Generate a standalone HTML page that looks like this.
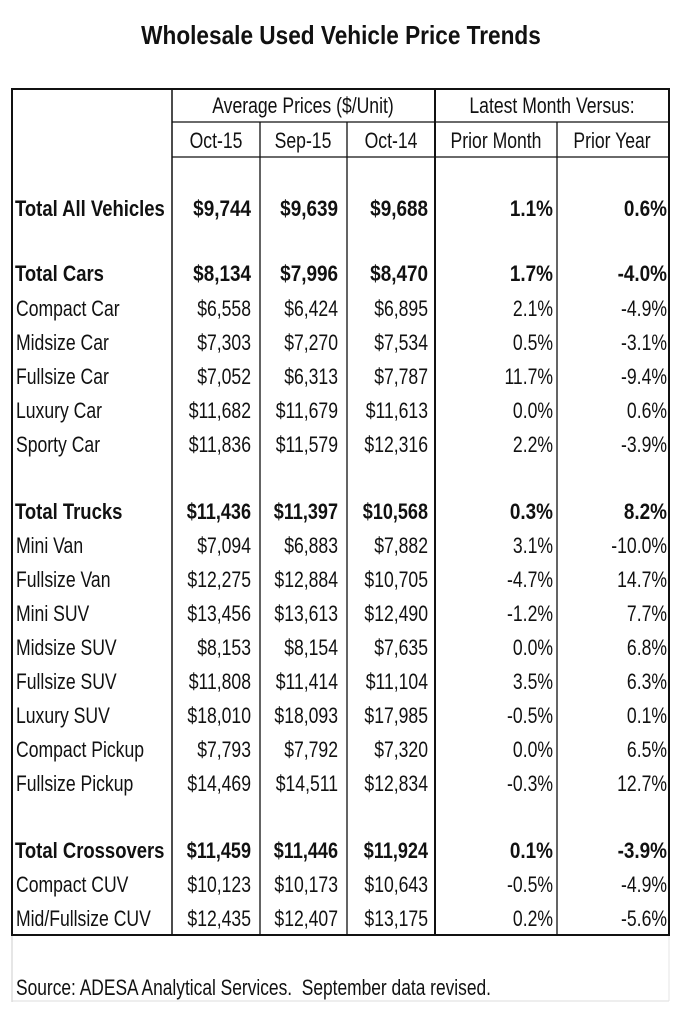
<!DOCTYPE html>
<html><head><meta charset="utf-8"><style>
html,body{margin:0;padding:0;background:#fff}
svg text{font-family:"Liberation Sans",sans-serif;fill:#111}
.b{font-weight:bold}
</style></head><body>
<svg width="680" height="1024" viewBox="0 0 680 1024" xmlns="http://www.w3.org/2000/svg">
<text transform="translate(341,44) scale(0.87,1)" text-anchor="middle" class="b" font-size="26">Wholesale Used Vehicle Price Trends</text>
<line x1="12" y1="935" x2="12" y2="1002" stroke="#ccc" stroke-width="1"/>
<line x1="12" y1="1001" x2="669" y2="1001" stroke="#ddd" stroke-width="1"/>
<line x1="669" y1="935" x2="669" y2="1001" stroke="#e4e4e4" stroke-width="1"/>
<rect x="12" y="89" width="657" height="846" fill="none" stroke="#111" stroke-width="2"/>
<line x1="172" y1="89" x2="172" y2="935" stroke="#111" stroke-width="1.5"/>
<line x1="260" y1="122" x2="260" y2="935" stroke="#111" stroke-width="1.3"/>
<line x1="347" y1="122" x2="347" y2="935" stroke="#111" stroke-width="1.3"/>
<line x1="435" y1="89" x2="435" y2="935" stroke="#111" stroke-width="2"/>
<line x1="557" y1="122" x2="557" y2="935" stroke="#111" stroke-width="1.3"/>
<line x1="172" y1="122" x2="669" y2="122" stroke="#111" stroke-width="1.3"/>
<line x1="172" y1="157" x2="669" y2="157" stroke="#111" stroke-width="1.3"/>
<g font-size="22" text-anchor="middle">
<text transform="translate(303,113) scale(0.8,1)">Average Prices ($/Unit)</text>
<text transform="translate(552,113) scale(0.8,1)">Latest Month Versus:</text>
<text transform="translate(216,148) scale(0.8,1)">Oct-15</text>
<text transform="translate(303,148) scale(0.8,1)">Sep-15</text>
<text transform="translate(391,148) scale(0.8,1)">Oct-14</text>
<text transform="translate(496,148) scale(0.8,1)">Prior Month</text>
<text transform="translate(612,148) scale(0.8,1)">Prior Year</text>
</g>
<g font-size="22">
<g class="b">
<text transform="translate(15,216) scale(0.84,1)">Total All Vehicles</text>
<text transform="translate(15,281) scale(0.84,1)">Total Cars</text>
<text transform="translate(15,519) scale(0.84,1)">Total Trucks</text>
<text transform="translate(15,858) scale(0.84,1)">Total Crossovers</text>
</g>
<text transform="translate(16,316) scale(0.8,1)">Compact Car</text>
<text transform="translate(16,350) scale(0.8,1)">Midsize Car</text>
<text transform="translate(16,384) scale(0.8,1)">Fullsize Car</text>
<text transform="translate(16,418) scale(0.8,1)">Luxury Car</text>
<text transform="translate(16,452) scale(0.8,1)">Sporty Car</text>
<text transform="translate(16,553) scale(0.8,1)">Mini Van</text>
<text transform="translate(16,587) scale(0.8,1)">Fullsize Van</text>
<text transform="translate(16,621) scale(0.8,1)">Mini SUV</text>
<text transform="translate(16,655) scale(0.8,1)">Midsize SUV</text>
<text transform="translate(16,689) scale(0.8,1)">Fullsize SUV</text>
<text transform="translate(16,723) scale(0.8,1)">Luxury SUV</text>
<text transform="translate(16,757) scale(0.8,1)">Compact Pickup</text>
<text transform="translate(16,791) scale(0.8,1)">Fullsize Pickup</text>
<text transform="translate(16,892) scale(0.8,1)">Compact CUV</text>
<text transform="translate(16,926) scale(0.8,1)">Mid/Fullsize CUV</text>
</g>
<g font-size="22" text-anchor="end">
<g class="b">
<text transform="translate(251,216) scale(0.86,1)">$9,744</text><text transform="translate(338,216) scale(0.86,1)">$9,639</text><text transform="translate(428,216) scale(0.86,1)">$9,688</text><text transform="translate(553,216) scale(0.86,1)">1.1%</text><text transform="translate(667,216) scale(0.86,1)">0.6%</text>
<text transform="translate(251,281) scale(0.86,1)">$8,134</text><text transform="translate(338,281) scale(0.86,1)">$7,996</text><text transform="translate(428,281) scale(0.86,1)">$8,470</text><text transform="translate(553,281) scale(0.86,1)">1.7%</text><text transform="translate(667,281) scale(0.86,1)">-4.0%</text>
<text transform="translate(251,519) scale(0.82,1)">$11,436</text><text transform="translate(338,519) scale(0.82,1)">$11,397</text><text transform="translate(428,519) scale(0.82,1)">$10,568</text><text transform="translate(553,519) scale(0.86,1)">0.3%</text><text transform="translate(667,519) scale(0.86,1)">8.2%</text>
<text transform="translate(251,858) scale(0.82,1)">$11,459</text><text transform="translate(338,858) scale(0.82,1)">$11,446</text><text transform="translate(428,858) scale(0.82,1)">$11,924</text><text transform="translate(553,858) scale(0.86,1)">0.1%</text><text transform="translate(667,858) scale(0.86,1)">-3.9%</text>
</g>
<text transform="translate(251,316) scale(0.8,1)">$6,558</text><text transform="translate(338,316) scale(0.8,1)">$6,424</text><text transform="translate(428,316) scale(0.8,1)">$6,895</text><text transform="translate(553,316) scale(0.8,1)">2.1%</text><text transform="translate(667,316) scale(0.8,1)">-4.9%</text>
<text transform="translate(251,350) scale(0.8,1)">$7,303</text><text transform="translate(338,350) scale(0.8,1)">$7,270</text><text transform="translate(428,350) scale(0.8,1)">$7,534</text><text transform="translate(553,350) scale(0.8,1)">0.5%</text><text transform="translate(667,350) scale(0.8,1)">-3.1%</text>
<text transform="translate(251,384) scale(0.8,1)">$7,052</text><text transform="translate(338,384) scale(0.8,1)">$6,313</text><text transform="translate(428,384) scale(0.8,1)">$7,787</text><text transform="translate(553,384) scale(0.8,1)">11.7%</text><text transform="translate(667,384) scale(0.8,1)">-9.4%</text>
<text transform="translate(251,418) scale(0.8,1)">$11,682</text><text transform="translate(338,418) scale(0.8,1)">$11,679</text><text transform="translate(428,418) scale(0.8,1)">$11,613</text><text transform="translate(553,418) scale(0.8,1)">0.0%</text><text transform="translate(667,418) scale(0.8,1)">0.6%</text>
<text transform="translate(251,452) scale(0.8,1)">$11,836</text><text transform="translate(338,452) scale(0.8,1)">$11,579</text><text transform="translate(428,452) scale(0.8,1)">$12,316</text><text transform="translate(553,452) scale(0.8,1)">2.2%</text><text transform="translate(667,452) scale(0.8,1)">-3.9%</text>
<text transform="translate(251,553) scale(0.8,1)">$7,094</text><text transform="translate(338,553) scale(0.8,1)">$6,883</text><text transform="translate(428,553) scale(0.8,1)">$7,882</text><text transform="translate(553,553) scale(0.8,1)">3.1%</text><text transform="translate(667,553) scale(0.8,1)">-10.0%</text>
<text transform="translate(251,587) scale(0.8,1)">$12,275</text><text transform="translate(338,587) scale(0.8,1)">$12,884</text><text transform="translate(428,587) scale(0.8,1)">$10,705</text><text transform="translate(553,587) scale(0.8,1)">-4.7%</text><text transform="translate(667,587) scale(0.8,1)">14.7%</text>
<text transform="translate(251,621) scale(0.8,1)">$13,456</text><text transform="translate(338,621) scale(0.8,1)">$13,613</text><text transform="translate(428,621) scale(0.8,1)">$12,490</text><text transform="translate(553,621) scale(0.8,1)">-1.2%</text><text transform="translate(667,621) scale(0.8,1)">7.7%</text>
<text transform="translate(251,655) scale(0.8,1)">$8,153</text><text transform="translate(338,655) scale(0.8,1)">$8,154</text><text transform="translate(428,655) scale(0.8,1)">$7,635</text><text transform="translate(553,655) scale(0.8,1)">0.0%</text><text transform="translate(667,655) scale(0.8,1)">6.8%</text>
<text transform="translate(251,689) scale(0.8,1)">$11,808</text><text transform="translate(338,689) scale(0.8,1)">$11,414</text><text transform="translate(428,689) scale(0.8,1)">$11,104</text><text transform="translate(553,689) scale(0.8,1)">3.5%</text><text transform="translate(667,689) scale(0.8,1)">6.3%</text>
<text transform="translate(251,723) scale(0.8,1)">$18,010</text><text transform="translate(338,723) scale(0.8,1)">$18,093</text><text transform="translate(428,723) scale(0.8,1)">$17,985</text><text transform="translate(553,723) scale(0.8,1)">-0.5%</text><text transform="translate(667,723) scale(0.8,1)">0.1%</text>
<text transform="translate(251,757) scale(0.8,1)">$7,793</text><text transform="translate(338,757) scale(0.8,1)">$7,792</text><text transform="translate(428,757) scale(0.8,1)">$7,320</text><text transform="translate(553,757) scale(0.8,1)">0.0%</text><text transform="translate(667,757) scale(0.8,1)">6.5%</text>
<text transform="translate(251,791) scale(0.8,1)">$14,469</text><text transform="translate(338,791) scale(0.8,1)">$14,511</text><text transform="translate(428,791) scale(0.8,1)">$12,834</text><text transform="translate(553,791) scale(0.8,1)">-0.3%</text><text transform="translate(667,791) scale(0.8,1)">12.7%</text>
<text transform="translate(251,892) scale(0.8,1)">$10,123</text><text transform="translate(338,892) scale(0.8,1)">$10,173</text><text transform="translate(428,892) scale(0.8,1)">$10,643</text><text transform="translate(553,892) scale(0.8,1)">-0.5%</text><text transform="translate(667,892) scale(0.8,1)">-4.9%</text>
<text transform="translate(251,926) scale(0.8,1)">$12,435</text><text transform="translate(338,926) scale(0.8,1)">$12,407</text><text transform="translate(428,926) scale(0.8,1)">$13,175</text><text transform="translate(553,926) scale(0.8,1)">0.2%</text><text transform="translate(667,926) scale(0.8,1)">-5.6%</text>
</g>
<text transform="translate(16,995) scale(0.79,1)" font-size="22" xml:space="preserve">Source: ADESA Analytical Services.  September data revised.</text>
</svg>
</body></html>
